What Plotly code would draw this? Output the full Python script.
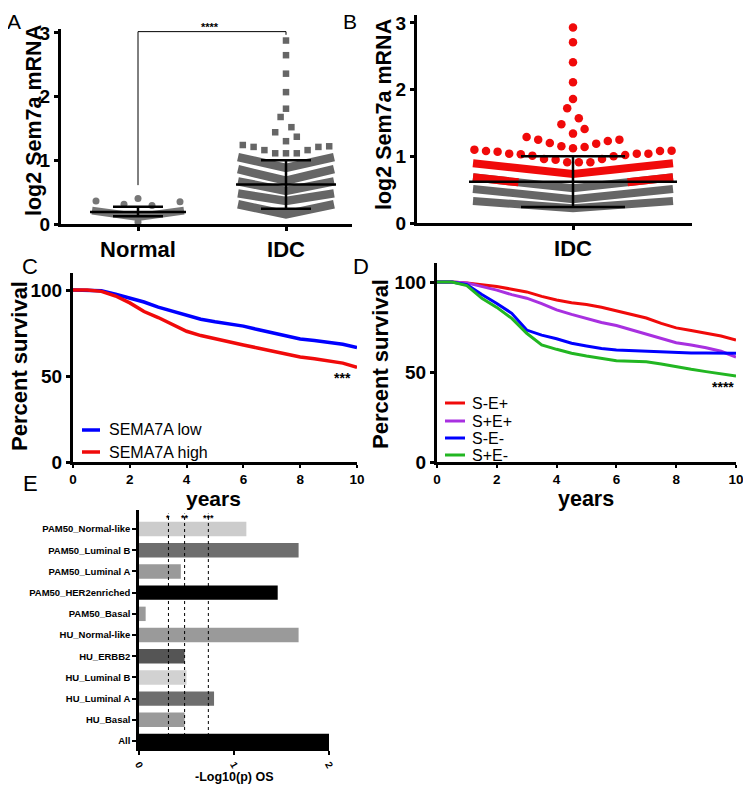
import numpy as np
import plotly.graph_objects as go

FONT = "Liberation Sans, Arial, sans-serif"
W, H = 751, 792
OFF = 8  # default page body margin; figure is sized to fill the rest of the window
FW, FH = W - OFF, H - OFF

# ------------------------------------------------------------------ data
# Panel A: log2 Sem7a mRNA, Normal vs IDC (dense bands read as centre/edge values)
normal_band_centers = [0.11]
normal_band_edges = [0.21]
normal_points = [0.03, 0.29, 0.31, 0.35, 0.36, 0.40]
normal_mean, normal_sd_low, normal_sd_high = 0.19, 0.12, 0.27

idc_band_centers = [0.15, 0.36, 0.52, 0.68, 0.88]
idc_band_edges = [0.31, 0.48, 0.67, 0.86, 1.05]
idc_points = [1.11, 1.11, 1.11, 1.16, 1.16, 1.21, 1.21, 1.22, 1.24,
              1.30, 1.37, 1.44, 1.52, 1.68, 1.81, 2.07, 2.36, 2.65, 2.88]
idc_mean, idc_sd_low, idc_sd_high = 0.62, 0.24, 1.00

# Panel B: IDC split at the high/low cutoff
idcb_band_centers = [0.22, 0.355, 0.52, 0.735]
idcb_band_edges = [0.33, 0.51, 0.685, 0.895]
idcb_points = [0.91, 0.91, 0.91, 0.95, 0.96, 0.96, 1.00, 1.01, 1.02, 1.03, 1.04, 1.04,
               1.04, 1.07, 1.08, 1.08, 1.085, 1.10,
               1.12, 1.14, 1.15, 1.19, 1.20, 1.23, 1.25, 1.25, 1.29,
               1.34, 1.41, 1.48, 1.57, 1.72, 1.86, 2.11, 2.41, 2.71, 2.93]
high_cutoff = 0.61

# Panel C / D: survival (percent) by years
years = [0, 0.5, 1, 1.5, 2, 2.5, 3, 3.5, 4, 4.5, 5, 5.5, 6, 6.5, 7, 7.5, 8, 8.5, 9, 9.5, 10]
sema_low = [100, 100, 99.5, 97.5, 95.5, 93, 90, 87.5, 85, 83, 81.5, 80.3, 79, 77, 75, 73,
            71.5, 70.7, 69.8, 68.5, 66.5]
sema_high = [100, 100, 99.2, 96.5, 92.5, 87.5, 84, 80, 76, 73.5, 71.5, 69.7, 68, 66.3, 64.5,
             62.5, 61, 60, 59, 57.5, 55]
s_minus_e_plus = [100, 100, 99.5, 98.5, 97.5, 96, 94.5, 92, 90, 88.5, 87.5, 86, 84, 82, 80,
                  77, 74.5, 73, 71.5, 70, 67.8]
s_plus_e_plus = [100, 100, 99.5, 97.5, 95.5, 93, 91, 88, 84.5, 82, 79.8, 77.5, 75.8, 73.5, 71,
                 68.5, 66.3, 65, 63.5, 61.5, 58.3]
s_minus_e_minus = [100, 100, 98.5, 93, 88.1, 82.6, 73.3, 70.5, 68.5, 66, 64.5, 63, 62.2, 61.8,
                   61.5, 61, 60.7, 60.5, 60.5, 60.4, 60.4]
s_plus_e_minus = [100, 100, 98, 90.9, 85.9, 79.8, 71.5, 65, 62.6, 60.4, 58.9, 57.5, 56.3, 56,
                  55.7, 54.5, 52.9, 51.5, 50.2, 49, 47.8]

# Panel E: -log10(p) OS by subtype (bottom to top)
subtypes = ["All", "HU_Basal", "HU_Luminal A", "HU_Luminal B", "HU_ERBB2", "HU_Normal-like",
            "PAM50_Basal", "PAM50_HER2enriched", "PAM50_Luminal A", "PAM50_Luminal B",
            "PAM50_Normal-like"]
neglog_p = [2.0, 0.48, 0.79, 0.50, 0.48, 1.68, 0.07, 1.46, 0.44, 1.68, 1.13]
bar_colors = ["#000000", "#9a9a9a", "#6e6e6e", "#d2d2d2", "#555555", "#9a9a9a",
              "#9a9a9a", "#000000", "#9a9a9a", "#6e6e6e", "#cccccc"]
sig_levels = [0.31, 0.48, 0.73]
sig_labels = ["*", "**", "***"]

# ------------------------------------------------------------------ helpers
def fx(p):
    return (p - OFF) / FW


def fy(p):
    return 1 - (p - OFF) / FH


def swarm(values, origin, bw, spacing):
    v = np.asarray(values, dtype=float)
    bins = np.floor((v - origin) / bw).astype(int)
    xs = np.zeros(len(v))
    for b in np.unique(bins):
        idx = np.where(bins == b)[0]
        idx = idx[np.argsort(v[idx], kind="stable")]
        n = len(idx)
        slots = []
        if n % 2:
            slots.append(0.0)
            k = 1
            while len(slots) < n:
                slots += [k, -k]
                k += 1
        else:
            k = 0.5
            while len(slots) < n:
                slots += [k, -k]
                k += 1
        for j, i in enumerate(idx):
            xs[i] = slots[j] * spacing
    return xs


fig = go.Figure()
GRAY = "#666666"
RED = "#f00a0a"


def band(xa, ya, cx, center, edge, hw, color, width):
    fig.add_trace(go.Scatter(x=[cx - hw, cx, cx + hw], y=[edge, center, edge], mode="lines",
                             line=dict(color=color, width=width), xaxis=xa, yaxis=ya,
                             hoverinfo="skip", showlegend=False))


# ------------------------------------------------------------------ panel A
a_cat_px = (138, 286)
a_ppu = a_cat_px[1] - a_cat_px[0]
a_xrange = [(61 - a_cat_px[0]) / a_ppu, (352 - a_cat_px[0]) / a_ppu]
a_yrange = [0, (224 - 29) / 63.7]

for c, e in zip(normal_band_centers, normal_band_edges):
    band("x", "y", 0, c, e, 46 / a_ppu, "#777777", 8)
nx = swarm(normal_points, 0.285, 0.1, 28) / a_ppu
fig.add_trace(go.Scatter(x=nx, y=normal_points, mode="markers",
                         marker=dict(color="#777777", size=7), xaxis="x", yaxis="y",
                         showlegend=False))
for c, e in zip(idc_band_centers, idc_band_edges):
    band("x", "y", 1, c, e, 48 / a_ppu, GRAY, 8.5)
ix = 1 + swarm(idc_points, 1.095, 0.2, 10.8) / a_ppu
fig.add_trace(go.Scatter(x=ix, y=idc_points, mode="markers",
                         marker=dict(color=GRAY, size=6.5, symbol="square"),
                         xaxis="x", yaxis="y", showlegend=False))

shapes = []


def mean_sd(xref, yref, cx, mean, lo, hi, mhw, chw):
    shapes.append(dict(type="line", xref=xref, yref=yref, x0=cx - mhw, x1=cx + mhw,
                       y0=mean, y1=mean, line=dict(color="black", width=2.5)))
    shapes.append(dict(type="line", xref=xref, yref=yref, x0=cx, x1=cx,
                       y0=lo, y1=hi, line=dict(color="black", width=2.5)))
    for yv in (lo, hi):
        shapes.append(dict(type="line", xref=xref, yref=yref, x0=cx - chw, x1=cx + chw,
                           y0=yv, y1=yv, line=dict(color="black", width=2.5)))


mean_sd("x", "y", 0, normal_mean, normal_sd_low, normal_sd_high, 48 / a_ppu, 25 / a_ppu)
mean_sd("x", "y", 1, idc_mean, idc_sd_low, idc_sd_high, 50 / a_ppu, 25 / a_ppu)
shapes.append(dict(type="path", xref="x", yref="y",
                   path="M 0 0.61 L 0 3.02 L 1 3.02 L 1 2.97",
                   line=dict(color="black", width=1)))

# ------------------------------------------------------------------ panel B
b_center_px = 573
b_xrange = [417 - b_center_px, 692 - b_center_px]
b_yrange = [0, (223 - 15) / 66.7]
for c, e in zip(idcb_band_centers, idcb_band_edges):
    hw = 100
    if c >= high_cutoff:
        band("x2", "y2", 0, c, e, hw, RED, 8)
    elif e < high_cutoff:
        band("x2", "y2", 0, c, e, hw, GRAY, 8)
    else:
        band("x2", "y2", 0, c, e, hw, GRAY, 8)
        s = hw * (high_cutoff - c) / (e - c)
        for sg in (-1, 1):
            fig.add_trace(go.Scatter(x=[sg * s, sg * hw], y=[high_cutoff, e], mode="lines",
                                     line=dict(color=RED, width=8), xaxis="x2", yaxis="y2",
                                     hoverinfo="skip", showlegend=False))
bx = swarm(idcb_points, 0.895, 0.22, 11.6)
fig.add_trace(go.Scatter(x=bx, y=idcb_points, mode="markers",
                         marker=dict(color=[RED if v >= high_cutoff else GRAY for v in idcb_points],
                                     size=8.5),
                         xaxis="x2", yaxis="y2", showlegend=False))
mean_sd("x2", "y2", 0, idc_mean, idc_sd_low, idc_sd_high, 104, 52)

# ------------------------------------------------------------------ panel C
for name, ys, col in [("SEMA7A low", sema_low, "#0000ff"), ("SEMA7A high", sema_high, RED)]:
    fig.add_trace(go.Scatter(x=years, y=ys, mode="lines", name=name,
                             line=dict(color=col, width=3.5), xaxis="x3", yaxis="y3",
                             showlegend=False))

# ------------------------------------------------------------------ panel D
d_series = [("S-E+", s_minus_e_plus, RED), ("S+E+", s_plus_e_plus, "#a830e0"),
            ("S-E-", s_minus_e_minus, "#0000ff"), ("S+E-", s_plus_e_minus, "#22b622")]
for name, ys, col in d_series:
    fig.add_trace(go.Scatter(x=years, y=ys, mode="lines", name=name,
                             line=dict(color=col, width=3), xaxis="x4", yaxis="y4",
                             showlegend=False))

# ------------------------------------------------------------------ panel E
fig.add_trace(go.Bar(x=neglog_p, y=subtypes, orientation="h",
                     marker=dict(color=bar_colors, line=dict(width=0)),
                     xaxis="x5", yaxis="y5", showlegend=False))
for lv in sig_levels:
    shapes.append(dict(type="line", xref="x5", yref="y5 domain", x0=lv, x1=lv, y0=0, y1=0.985,
                       line=dict(color="black", width=1, dash="dot")))

# ------------------------------------------------------------------ axes
def axis(domain, rng, tsize, **kw):
    d = dict(domain=domain, range=rng, showline=True, linewidth=3, linecolor="black",
             ticks="outside", tickwidth=3, ticklen=4, tickcolor="black", showgrid=False,
             zeroline=False, fixedrange=True, automargin=False,
             tickfont=dict(family=FONT, size=tsize, color="black", weight="bold"))
    d.update(kw)
    return d


layout_axes = dict(
    xaxis=axis([fx(61), fx(352)], a_xrange, 22, tickvals=[0, 1], ticktext=["Normal", "IDC"],
               anchor="y"),
    yaxis=axis([fy(224), fy(29)], a_yrange, 19, tickvals=[0, 1, 2, 3], anchor="x"),
    xaxis2=axis([fx(417), fx(692)], b_xrange, 22, tickvals=[0], ticktext=["IDC"], anchor="y2"),
    yaxis2=axis([fy(223), fy(15)], b_yrange, 19, tickvals=[0, 1, 2, 3], anchor="x2"),
    xaxis3=axis([fx(73), fx(357)], [0, 10], 13.5, tickvals=[0, 2, 4, 6, 8, 10], anchor="y3",
                ticklen=3, tickwidth=2),
    yaxis3=axis([fy(462), fy(273)], [0, (462 - 273) / 1.72], 19, tickvals=[0, 50, 100],
                anchor="x3"),
    xaxis4=axis([fx(437), fx(736)], [0, 10], 13.5, tickvals=[0, 2, 4, 6, 8, 10], anchor="y4",
                ticklen=3, tickwidth=2),
    yaxis4=axis([fy(462), fy(263)], [0, (462 - 263) / 1.8], 19, tickvals=[0, 50, 100],
                anchor="x4"),
    xaxis5=axis([fx(139), fx(329)], [0, 2], 10, tickvals=[0, 1, 2], anchor="y5",
                tickangle=60, linewidth=2.5, tickwidth=2, ticklen=4),
    yaxis5=axis([fy(748), fy(510)], [-0.33, 10.9], 9.5, type="category",
                categoryorder="array", categoryarray=subtypes, anchor="x5",
                linewidth=2.5, tickwidth=2, ticklen=4),
)

# ------------------------------------------------------------------ annotations
ann = []


def text(x, y, s, size, bold=True, angle=0, xanchor="center", yanchor="middle"):
    ann.append(dict(x=fx(x), y=fy(y), xref="paper", yref="paper", text=s, showarrow=False,
                    textangle=angle, xanchor=xanchor, yanchor=yanchor,
                    font=dict(family=FONT, size=size, color="black",
                              weight="bold" if bold else "normal")))


text(14, 8, "A", 21, bold=False, yanchor="top")
text(350, 8, "B", 21, bold=False, yanchor="top")
for lab, x, y in [("C", 30, 266), ("D", 361, 267), ("E", 30, 483)]:
    text(x, y, lab, 22, bold=False)
text(34, 121, "log2 Sem7a mRNA", 21.5, angle=-90)
text(384, 115, "log2 Sem7a mRNA", 21.5, angle=-90)
text(19, 366, "Percent survival", 22, angle=-90)
text(380, 364, "Percent survival", 22, angle=-90)
text(213, 498, "years", 21)
text(586, 499, "years", 21.5)
text(210, 27, "****", 11)
text(342, 378, "***", 14)
text(723, 387, "****", 14)
text(234, 777, "-Log10(p) OS", 12.5)
for lv, lab in zip(sig_levels, sig_labels):
    ann.append(dict(x=lv, y=fy(518), xref="x5", yref="paper", text=lab, showarrow=False,
                    xanchor="center", yanchor="middle",
                    font=dict(family=FONT, size=9, color="black", weight="bold")))

# legends drawn as line samples + text
for (name, col), ypx in zip([("SEMA7A low", "#0000ff"), ("SEMA7A high", RED)], [430, 452]):
    shapes.append(dict(type="line", xref="paper", yref="paper", x0=fx(82), x1=fx(100),
                       y0=fy(ypx), y1=fy(ypx), line=dict(color=col, width=3.5)))
    text(107, ypx, name, 16, bold=False, xanchor="left")
for (name, _, col), ypx in zip(d_series, [403, 421, 438, 455]):
    shapes.append(dict(type="line", xref="paper", yref="paper", x0=fx(445), x1=fx(465),
                       y0=fy(ypx), y1=fy(ypx), line=dict(color=col, width=3)))
    text(470, ypx, name, 16, bold=False, xanchor="left")

fig.update_layout(
    width=FW, height=FH, margin=dict(l=0, r=0, t=0, b=0), autosize=False,
    paper_bgcolor="white", plot_bgcolor="white", bargap=0.32,
    font=dict(family=FONT, color="black"),
    shapes=shapes, annotations=ann, showlegend=False,
    **layout_axes,
)

fig.write_html("out.html")
